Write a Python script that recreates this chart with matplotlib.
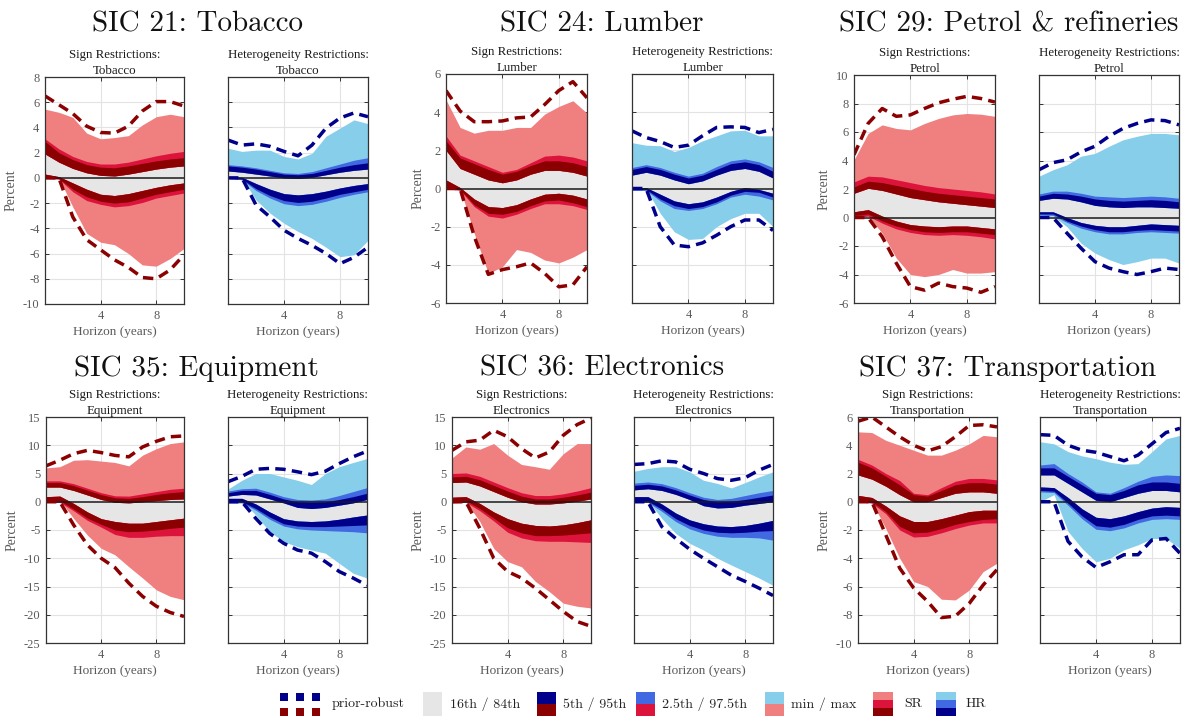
import matplotlib
matplotlib.use('Agg')
import matplotlib.pyplot as plt
from matplotlib.patches import Rectangle

plt.rcParams['axes.unicode_minus'] = False

# ---------------- data ----------------
horizon = [0, 1, 2, 3, 4, 5, 6, 7, 8, 9, 10]
x_ticks = [4, 8]

industries = ['Tobacco', 'Lumber', 'Petrol', 'Equipment', 'Electronics', 'Transportation']
main_titles = ['SIC 21: Tobacco', 'SIC 24: Lumber', 'SIC 29: Petrol & refineries',
               'SIC 35: Equipment', 'SIC 36: Electronics', 'SIC 37: Transportation']

tobacco_yticks = [-10, -8, -6, -4, -2, 0, 2, 4, 6, 8]
lumber_yticks = [-6, -4, -2, 0, 2, 4, 6]
petrol_yticks = [-6, -4, -2, 0, 2, 4, 6, 8, 10]
equipment_yticks = [-25, -20, -15, -10, -5, 0, 5, 10, 15]
electronics_yticks = [-25, -20, -15, -10, -5, 0, 5, 10, 15]
transportation_yticks = [-10, -8, -6, -4, -2, 0, 2, 4, 6]

# --- Tobacco, sign restrictions
tobacco_sr_pr_up = [6.5, 5.8, 5.1, 4.1, 3.6, 3.55, 4.1, 5.3, 6.05, 6.05, 5.7]
tobacco_sr_pr_lo = [0, 0, -3.1, -4.9, -5.7, -6.5, -7.1, -7.9, -8.0, -7.3, -6.1]
tobacco_sr_mm_up = [5.45, 5.2, 4.8, 3.55, 3.1, 3.2, 3.35, 4.2, 4.85, 5.05, 4.85]
tobacco_sr_mm_lo = [0, 0, -2.3, -4.4, -5.1, -5.3, -6.0, -6.9, -7.0, -6.4, -5.6]
tobacco_sr_up_in = [1.9, 1.25, 0.75, 0.4, 0.2, 0.15, 0.3, 0.5, 0.7, 0.85, 0.95]
tobacco_sr_up_95 = [2.9, 2.0, 1.45, 1.05, 0.85, 0.8, 0.95, 1.15, 1.35, 1.5, 1.6]
tobacco_sr_up_975 = [3.1, 2.3, 1.7, 1.3, 1.1, 1.1, 1.25, 1.5, 1.75, 1.95, 2.1]
tobacco_sr_lo_in = [0.3, 0.1, -0.4, -0.9, -1.3, -1.4, -1.25, -1.0, -0.75, -0.55, -0.4]
tobacco_sr_lo_05 = [0.0, -0.05, -0.9, -1.5, -1.85, -2.0, -1.9, -1.6, -1.3, -1.1, -0.9]
tobacco_sr_lo_025 = [-0.05, -0.1, -1.1, -1.8, -2.1, -2.3, -2.2, -1.95, -1.6, -1.4, -1.2]
# --- Tobacco, heterogeneity restrictions
tobacco_hr_pr_up = [3.0, 2.6, 2.7, 2.5, 2.1, 1.75, 2.6, 3.95, 4.75, 5.15, 4.85]
tobacco_hr_pr_lo = [0, 0, -2.15, -3.1, -4.15, -4.8, -5.35, -6.0, -6.8, -6.3, -5.5]
tobacco_hr_mm_up = [2.35, 2.1, 2.2, 2.2, 1.7, 1.5, 1.95, 3.3, 3.95, 4.6, 4.3]
tobacco_hr_mm_lo = [0, 0, -1.75, -2.8, -3.6, -4.25, -4.8, -5.5, -6.25, -6.1, -4.95]
tobacco_hr_up_in = [0.55, 0.45, 0.3, 0.15, 0.0, -0.05, 0.05, 0.25, 0.45, 0.6, 0.7]
tobacco_hr_up_95 = [0.95, 0.85, 0.7, 0.5, 0.3, 0.25, 0.35, 0.6, 0.85, 1.05, 1.2]
tobacco_hr_up_975 = [1.05, 0.95, 0.8, 0.6, 0.4, 0.35, 0.5, 0.8, 1.1, 1.4, 1.6]
tobacco_hr_lo_in = [0.1, 0.05, -0.45, -0.9, -1.25, -1.35, -1.25, -1.05, -0.8, -0.6, -0.45]
tobacco_hr_lo_05 = [0.0, -0.1, -0.85, -1.4, -1.8, -1.95, -1.85, -1.6, -1.3, -1.1, -0.9]
tobacco_hr_lo_025 = [-0.05, -0.15, -1.0, -1.6, -2.05, -2.2, -2.1, -1.85, -1.55, -1.3, -1.1]

# --- Lumber SR
lumber_sr_pr_up = [5.13, 4.06, 3.5, 3.5, 3.54, 3.7, 3.75, 4.4, 5.13, 5.6, 4.75]
lumber_sr_pr_lo = [0, 0, -2.5, -4.5, -4.25, -4.1, -3.9, -4.45, -5.15, -5.05, -4.1]
lumber_sr_mm_up = [4.65, 3.2, 2.9, 3.05, 3.05, 3.2, 3.2, 3.9, 4.3, 4.6, 3.95]
lumber_sr_mm_lo = [0.1, 0, -2.35, -4.45, -4.1, -3.2, -3.35, -3.75, -3.9, -3.6, -3.2]
lumber_sr_up_in = [2.0, 1.05, 0.75, 0.45, 0.3, 0.45, 0.75, 0.95, 0.95, 0.85, 0.65]
lumber_sr_up_95 = [2.5, 1.6, 1.3, 1.0, 0.75, 0.9, 1.2, 1.45, 1.45, 1.35, 1.15]
lumber_sr_up_975 = [2.75, 1.75, 1.45, 1.15, 0.85, 1.0, 1.35, 1.7, 1.75, 1.65, 1.45]
lumber_sr_lo_in = [0.45, 0.05, -0.55, -0.95, -1.0, -0.85, -0.55, -0.3, -0.25, -0.35, -0.55]
lumber_sr_lo_05 = [0.05, -0.05, -0.85, -1.3, -1.35, -1.2, -0.9, -0.65, -0.6, -0.75, -0.95]
lumber_sr_lo_025 = [0.0, -0.1, -0.95, -1.45, -1.55, -1.35, -1.05, -0.8, -0.8, -0.9, -1.1]
# --- Lumber HR
lumber_hr_pr_up = [3.02, 2.67, 2.46, 2.15, 2.27, 2.76, 3.2, 3.23, 3.2, 2.93, 3.1]
lumber_hr_pr_lo = [0, 0, -2.0, -2.96, -3.05, -2.85, -2.45, -2.0, -1.65, -1.65, -2.2]
lumber_hr_mm_up = [2.4, 2.27, 2.24, 1.94, 2.15, 2.5, 2.76, 3.02, 3.05, 2.76, 2.76]
lumber_hr_mm_lo = [0, 0, -1.3, -2.27, -2.67, -2.62, -2.0, -1.58, -1.3, -1.3, -2.0]
lumber_hr_up_in = [0.7, 0.85, 0.7, 0.45, 0.25, 0.4, 0.7, 0.95, 1.05, 0.9, 0.55]
lumber_hr_up_95 = [1.0, 1.15, 1.0, 0.75, 0.55, 0.7, 1.0, 1.3, 1.4, 1.25, 0.9]
lumber_hr_up_975 = [1.1, 1.25, 1.1, 0.85, 0.65, 0.8, 1.15, 1.45, 1.55, 1.4, 1.1]
lumber_hr_lo_in = [0.05, 0.05, -0.3, -0.65, -0.8, -0.7, -0.45, -0.15, 0.05, -0.05, -0.25]
lumber_hr_lo_05 = [-0.05, -0.05, -0.55, -0.9, -1.05, -0.95, -0.7, -0.35, -0.15, -0.2, -0.45]
lumber_hr_lo_025 = [-0.1, -0.1, -0.65, -1.05, -1.15, -1.05, -0.8, -0.45, -0.3, -0.4, -0.6]

# --- Petrol SR
petrol_sr_pr_up = [4.4, 6.6, 7.65, 7.1, 7.2, 7.65, 8.05, 8.3, 8.5, 8.35, 8.1]
petrol_sr_pr_lo = [0, 0, -1.35, -3.2, -4.85, -5.1, -4.6, -4.85, -4.95, -5.25, -4.85]
petrol_sr_mm_up = [4.05, 5.9, 6.5, 6.25, 6.15, 6.6, 6.95, 7.2, 7.3, 7.25, 7.1]
petrol_sr_mm_lo = [0, 0.1, -1.1, -2.85, -4.0, -4.15, -4.0, -3.65, -3.9, -3.9, -3.8]
petrol_sr_up_in = [1.7, 2.05, 1.9, 1.65, 1.4, 1.25, 1.1, 1.0, 0.9, 0.8, 0.7]
petrol_sr_up_95 = [2.15, 2.55, 2.45, 2.25, 2.05, 1.85, 1.7, 1.6, 1.5, 1.4, 1.3]
petrol_sr_up_975 = [2.5, 2.9, 2.85, 2.65, 2.45, 2.25, 2.1, 2.0, 1.9, 1.8, 1.65]
petrol_sr_lo_in = [0.4, 0.55, 0.1, -0.25, -0.5, -0.6, -0.65, -0.6, -0.6, -0.7, -0.8]
petrol_sr_lo_05 = [0.15, 0.25, -0.25, -0.6, -0.85, -1.0, -1.05, -1.0, -1.0, -1.1, -1.2]
petrol_sr_lo_025 = [0.0, 0.1, -0.4, -0.8, -1.05, -1.2, -1.25, -1.2, -1.25, -1.35, -1.5]
# --- Petrol HR
petrol_hr_pr_up = [3.35, 3.85, 4.05, 4.6, 5.0, 5.7, 6.25, 6.6, 6.85, 6.8, 6.5]
petrol_hr_pr_lo = [0, 0, -1.1, -2.15, -3.1, -3.55, -3.8, -4.0, -3.8, -3.55, -3.65]
petrol_hr_mm_up = [2.9, 3.35, 3.7, 4.3, 4.5, 5.0, 5.45, 5.7, 5.9, 5.9, 5.8]
petrol_hr_mm_lo = [0, 0.1, -0.65, -1.8, -2.5, -2.95, -3.3, -3.1, -2.85, -2.85, -3.2]
petrol_hr_up_in = [1.2, 1.35, 1.3, 1.1, 0.85, 0.75, 0.7, 0.75, 0.75, 0.7, 0.65]
petrol_hr_up_95 = [1.5, 1.7, 1.65, 1.5, 1.3, 1.2, 1.15, 1.2, 1.25, 1.2, 1.1]
petrol_hr_up_975 = [1.65, 1.85, 1.85, 1.7, 1.5, 1.45, 1.4, 1.45, 1.5, 1.45, 1.35]
petrol_hr_lo_in = [0.4, 0.4, 0.0, -0.35, -0.55, -0.65, -0.65, -0.55, -0.45, -0.5, -0.55]
petrol_hr_lo_05 = [0.25, 0.25, -0.25, -0.6, -0.85, -1.0, -1.0, -0.9, -0.85, -0.9, -0.95]
petrol_hr_lo_025 = [0.2, 0.15, -0.35, -0.75, -1.0, -1.15, -1.15, -1.05, -1.0, -1.05, -1.1]

# --- Equipment SR
equipment_sr_pr_up = [6.35, 7.35, 8.5, 9.1, 8.7, 8.2, 7.95, 9.7, 10.7, 11.5, 11.65]
equipment_sr_pr_lo = [0, 0, -4.1, -7.65, -10.0, -11.65, -14.4, -16.75, -18.5, -19.6, -20.3]
equipment_sr_mm_up = [6.0, 6.2, 7.35, 7.45, 7.2, 6.95, 6.35, 8.25, 9.4, 10.3, 10.6]
equipment_sr_mm_lo = [0, 0.3, -2.95, -5.9, -8.25, -9.4, -11.5, -13.5, -15.6, -16.75, -17.35]
equipment_sr_up_in = [2.6, 2.6, 2.0, 1.2, 0.4, -0.1, -0.2, 0.0, 0.2, 0.4, 0.5]
equipment_sr_up_95 = [3.4, 3.4, 2.85, 2.05, 1.25, 0.7, 0.6, 0.9, 1.3, 1.6, 1.8]
equipment_sr_up_975 = [3.7, 3.7, 3.2, 2.4, 1.6, 1.05, 1.0, 1.4, 1.8, 2.2, 2.4]
equipment_sr_lo_in = [0.9, 1.0, -0.3, -1.8, -3.0, -3.5, -3.8, -3.8, -3.5, -3.2, -2.9]
equipment_sr_lo_05 = [0.1, 0.2, -1.3, -2.9, -4.0, -5.0, -5.3, -5.2, -5.0, -4.7, -4.5]
equipment_sr_lo_025 = [-0.1, -0.1, -1.6, -3.3, -4.5, -5.8, -6.3, -6.3, -6.1, -6.0, -6.0]
# --- Equipment HR
equipment_hr_pr_up = [3.55, 4.5, 5.75, 5.9, 5.75, 5.3, 4.8, 5.4, 6.75, 7.95, 8.95]
equipment_hr_pr_lo = [0, 0, -2.95, -5.6, -7.35, -8.55, -9.1, -10.6, -12.35, -13.5, -14.8]
equipment_hr_mm_up = [2.25, 3.8, 5.0, 5.0, 4.4, 3.8, 3.05, 5.0, 6.2, 6.95, 7.65]
equipment_hr_mm_lo = [0, 0.2, -2.35, -5.3, -7.05, -7.95, -8.55, -9.1, -10.9, -12.65, -13.5]
equipment_hr_up_in = [1.0, 1.3, 1.2, 0.5, -0.2, -1.0, -1.2, -1.0, -0.6, -0.2, 0.4]
equipment_hr_up_95 = [1.6, 2.0, 2.0, 1.3, 0.5, 0.0, -0.1, 0.0, 0.4, 0.9, 1.5]
equipment_hr_up_975 = [1.9, 2.3, 2.4, 1.7, 0.9, 0.4, 0.3, 0.5, 1.1, 1.8, 2.5]
equipment_hr_lo_in = [0.6, 0.6, -0.4, -1.8, -3.0, -3.4, -3.5, -3.4, -3.1, -2.7, -2.35]
equipment_hr_lo_05 = [0.0, 0.0, -1.2, -2.7, -3.9, -4.3, -4.4, -4.4, -4.3, -4.2, -4.1]
equipment_hr_lo_025 = [-0.2, -0.2, -1.5, -3.1, -4.3, -4.8, -5.0, -5.1, -5.2, -5.3, -5.5]

# --- Electronics SR
electronics_sr_pr_up = [9.1, 10.6, 10.9, 12.65, 11.5, 9.4, 7.75, 8.8, 11.75, 13.65, 14.8]
electronics_sr_pr_lo = [0, 0, -4.7, -10.0, -12.35, -13.5, -15.3, -17.35, -19.4, -21.2, -22.05]
electronics_sr_mm_up = [7.75, 9.7, 9.3, 10.3, 8.25, 6.6, 6.2, 5.75, 8.5, 10.3, 10.3]
electronics_sr_mm_lo = [0, 0, -3.5, -8.25, -10.6, -11.5, -14.1, -15.9, -17.95, -18.5, -18.8]
electronics_sr_up_in = [3.4, 3.5, 2.8, 1.8, 0.8, 0.0, -0.4, -0.4, -0.2, 0.1, 0.5]
electronics_sr_up_95 = [4.4, 4.5, 3.9, 2.9, 1.9, 1.0, 0.5, 0.5, 0.8, 1.2, 1.7]
electronics_sr_up_975 = [5.0, 5.1, 4.5, 3.5, 2.5, 1.6, 1.1, 1.1, 1.4, 1.9, 2.5]
electronics_sr_lo_in = [0.8, 0.9, -0.3, -1.8, -3.0, -3.8, -4.2, -4.3, -4.1, -3.7, -3.2]
electronics_sr_lo_05 = [0.1, 0.2, -1.2, -2.9, -4.6, -5.5, -6.0, -6.0, -5.9, -5.7, -5.5]
electronics_sr_lo_025 = [-0.2, -0.1, -1.6, -3.4, -5.4, -6.4, -6.9, -7.0, -7.0, -7.1, -7.2]
# --- Electronics HR
electronics_hr_pr_up = [6.6, 6.75, 7.25, 7.05, 5.75, 5.0, 4.1, 3.8, 4.25, 5.6, 6.6]
electronics_hr_pr_lo = [0, 0, -4.4, -6.5, -8.4, -10.0, -11.5, -13.0, -14.1, -15.3, -16.6]
electronics_hr_mm_up = [5.4, 5.9, 6.2, 6.2, 5.3, 3.8, 3.25, 2.45, 3.4, 4.4, 5.3]
electronics_hr_mm_lo = [0, 0.2, -2.95, -5.6, -7.35, -8.55, -10.0, -11.2, -12.35, -13.5, -14.8]
electronics_hr_up_in = [2.1, 2.3, 2.0, 1.3, 0.4, -0.7, -1.1, -1.0, -0.6, -0.3, 0.0]
electronics_hr_up_95 = [2.9, 3.1, 2.8, 2.1, 1.2, 0.4, 0.0, 0.1, 0.4, 0.8, 1.2]
electronics_hr_up_975 = [3.3, 3.5, 3.2, 2.5, 1.6, 0.8, 0.4, 0.6, 1.1, 1.6, 2.0]
electronics_hr_lo_in = [0.9, 0.9, -0.4, -2.0, -3.2, -3.9, -4.3, -4.4, -4.2, -3.8, -3.3]
electronics_hr_lo_05 = [0.1, 0.1, -1.3, -3.0, -4.2, -5.0, -5.4, -5.5, -5.4, -5.2, -5.1]
electronics_hr_lo_025 = [-0.1, -0.1, -1.7, -3.5, -4.8, -5.6, -6.1, -6.3, -6.3, -6.4, -6.8]

# --- Transportation SR
transportation_sr_pr_up = [5.7, 6.0, 5.3, 4.6, 4.0, 3.6, 3.9, 4.6, 5.4, 5.45, 5.3]
transportation_sr_pr_lo = [0, 0, -2.35, -4.7, -6.1, -7.05, -8.2, -8.1, -7.2, -5.9, -4.8]
transportation_sr_mm_up = [4.95, 4.9, 4.35, 4.0, 3.65, 3.3, 3.3, 3.65, 4.1, 4.7, 4.6]
transportation_sr_mm_lo = [0, 0, -1.9, -4.0, -5.65, -6.0, -6.9, -6.95, -6.25, -4.95, -4.35]
transportation_sr_up_in = [1.9, 1.6, 1.1, 0.5, 0.0, 0.0, 0.3, 0.6, 0.7, 0.7, 0.6]
transportation_sr_up_95 = [2.8, 2.4, 1.8, 1.2, 0.5, 0.4, 0.8, 1.2, 1.35, 1.35, 1.25]
transportation_sr_up_975 = [3.0, 2.6, 2.0, 1.5, 0.6, 0.5, 1.0, 1.45, 1.65, 1.65, 1.55]
transportation_sr_lo_in = [0.45, 0.3, -0.3, -1.0, -1.4, -1.4, -1.2, -0.95, -0.7, -0.6, -0.6]
transportation_sr_lo_05 = [0.1, 0.0, -0.7, -1.75, -2.2, -2.15, -1.9, -1.6, -1.4, -1.25, -1.2]
transportation_sr_lo_025 = [0.0, -0.1, -0.85, -2.0, -2.5, -2.45, -2.2, -1.9, -1.65, -1.5, -1.5]
# --- Transportation HR
transportation_hr_pr_up = [4.75, 4.7, 4.0, 3.65, 3.5, 3.2, 2.9, 3.3, 4.1, 4.9, 5.2]
transportation_hr_pr_lo = [0, 0, -2.8, -3.9, -4.65, -4.25, -3.75, -3.75, -2.7, -2.6, -3.65]
transportation_hr_mm_up = [4.25, 4.1, 3.55, 3.25, 3.05, 2.8, 2.65, 2.7, 3.55, 4.45, 4.7]
transportation_hr_mm_lo = [0, 0.5, -2.1, -3.3, -4.25, -4.0, -3.4, -3.05, -2.6, -2.6, -3.3]
transportation_hr_up_in = [1.9, 1.9, 1.3, 0.7, 0.1, 0.0, 0.3, 0.6, 0.8, 0.8, 0.7]
transportation_hr_up_95 = [2.4, 2.4, 1.8, 1.2, 0.6, 0.5, 0.8, 1.2, 1.4, 1.4, 1.3]
transportation_hr_up_975 = [2.6, 2.7, 2.0, 1.4, 0.7, 0.6, 1.0, 1.45, 1.8, 1.9, 1.85]
transportation_hr_lo_in = [1.05, 1.0, 0.3, -0.5, -1.1, -1.2, -1.0, -0.7, -0.45, -0.35, -0.4]
transportation_hr_lo_05 = [0.8, 0.75, -0.1, -1.0, -1.7, -1.8, -1.6, -1.25, -1.0, -0.95, -1.0]
transportation_hr_lo_025 = [0.7, 0.65, -0.25, -1.2, -1.95, -2.05, -1.85, -1.5, -1.25, -1.2, -1.25]

legend_labels = ['prior-robust', '16th / 84th', '5th / 95th', '2.5th / 97.5th', 'min / max', 'SR', 'HR']

# ---------------- styling ----------------
SERIF = ['Liberation Serif', 'DejaVu Serif']
CM = ['cmr10', 'DejaVu Serif']
SR_C = dict(light='#F08080', mid='#DC143C', dark='#8B0000', dash='#8B0000')
HR_C = dict(light='#87CEEB', mid='#4169E1', dark='#00008B', dash='#00008B')
GRAY = '#E6E6E6'
TICKC = '#5a5a5a'

W, H = 1187, 719
fig = plt.figure(figsize=(W / 100, H / 100), dpi=100)


def series(prefix):
    g = globals()
    keys = ['pr_up', 'pr_lo', 'mm_up', 'mm_lo', 'up_in', 'up_95', 'up_975',
            'lo_in', 'lo_05', 'lo_025']
    return {k: g[prefix + '_' + k] for k in keys}


# axes rectangles in pixels: (left, right, top, bottom)
ax_px = [
    ((45, 184, 77, 304), (228, 368, 77, 304)),
    ((446, 587, 74, 303), (632, 773, 74, 303)),
    ((854, 995, 75, 303), (1039, 1179, 75, 303)),
    ((46, 184, 417, 643), (228, 367, 417, 643)),
    ((452, 591, 417, 643), (634, 773, 417, 643)),
    ((858, 997, 417, 643), (1040, 1180, 417, 643)),
]
title_px = [(197, 31), (602, 31), (1009, 31), (196, 376), (602, 376), (1008, 376)]
yticks_all = [tobacco_yticks, lumber_yticks, petrol_yticks,
              equipment_yticks, electronics_yticks, transportation_yticks]


def draw(ax, d, c):
    ax.fill_between(horizon, d['mm_lo'], d['mm_up'], color=c['light'], lw=0, zorder=2)
    ax.fill_between(horizon, d['lo_in'], d['up_in'], color=GRAY, lw=0, zorder=3)
    ax.fill_between(horizon, d['up_in'], d['up_975'], color=c['mid'], lw=0, zorder=4)
    ax.fill_between(horizon, d['up_in'], d['up_95'], color=c['dark'], lw=0, zorder=5)
    ax.fill_between(horizon, d['lo_025'], d['lo_in'], color=c['mid'], lw=0, zorder=4)
    ax.fill_between(horizon, d['lo_05'], d['lo_in'], color=c['dark'], lw=0, zorder=5)
    ax.axhline(0, color='#1a1a1a', lw=1.1, zorder=6)
    ax.plot(horizon, d['pr_up'], color=c['dash'], lw=2.5, ls=(0, (3, 1.8)), zorder=7,
            dash_capstyle='butt')
    ax.plot(horizon, d['pr_lo'], color=c['dash'], lw=2.5, ls=(0, (3, 1.8)), zorder=7,
            dash_capstyle='butt')


for i, ind in enumerate(industries):
    key = ind.lower()
    for j, (kind, c, sub) in enumerate([('sr', SR_C, 'Sign Restrictions:'),
                                        ('hr', HR_C, 'Heterogeneity Restrictions:')]):
        l, r, t, b = ax_px[i][j]
        ax = fig.add_axes([l / W, 1 - b / H, (r - l) / W, (b - t) / H])
        draw(ax, series(key + '_' + kind), c)
        yt = yticks_all[i]
        ax.set_xlim(0, 10)
        ax.set_ylim(yt[0], yt[-1])
        ax.set_xticks(x_ticks)
        ax.set_yticks(yt)
        ax.grid(True, color='#E3E3E3', lw=0.8, zorder=0)
        ax.set_axisbelow(True)
        for s in ax.spines.values():
            s.set_color('#333333')
            s.set_linewidth(0.9)
            s.set_zorder(10)
        ax.tick_params(direction='in', top=True, right=True, length=3, width=0.7,
                       color='#333333', labelcolor=TICKC, labelsize=9, pad=4)
        for lab in ax.get_xticklabels() + ax.get_yticklabels():
            lab.set_family(SERIF)
        if j == 1:
            ax.tick_params(labelleft=False)
        else:
            ax.set_ylabel('Percent', family=SERIF, fontsize=10, color=TICKC, labelpad=4)
        ax.set_xlabel('Horizon (years)', family=SERIF, fontsize=9.5, color=TICKC, labelpad=3)
        ax.set_title(sub + '\n' + ind, family=SERIF, fontsize=9.3, fontweight='normal',
                     color='#1a1a1a', pad=2, linespacing=1.45)
    tx, ty = title_px[i]
    fig.text(tx / W, 1 - ty / H, main_titles[i], ha='center', va='baseline',
             fontsize=21, family=CM, color='#111111')

# ---------------- legend ----------------
lg = fig.add_axes([0, 0, 1, 1], zorder=-1)
lg.set_xlim(0, W)
lg.set_ylim(H, 0)
lg.axis('off')
ymid = 704
for x0 in (280, 296, 312):
    lg.add_patch(Rectangle((x0, 693), 8, 8, color=HR_C['dash'], lw=0))
    lg.add_patch(Rectangle((x0, 708), 8, 8, color=SR_C['dash'], lw=0))
lg.add_patch(Rectangle((423, 692), 19, 24, color=GRAY, lw=0))
for x0, top, bot in ((537, HR_C['dark'], SR_C['dark']), (636, HR_C['mid'], SR_C['mid']),
                     (765, HR_C['light'], SR_C['light'])):
    lg.add_patch(Rectangle((x0, 692), 19, 12, color=top, lw=0))
    lg.add_patch(Rectangle((x0, 704), 19, 12, color=bot, lw=0))
for x0, cc in ((873, SR_C), (936, HR_C)):
    lg.add_patch(Rectangle((x0, 692), 20, 8, color=cc['light'], lw=0))
    lg.add_patch(Rectangle((x0, 700), 20, 8, color=cc['mid'], lw=0))
    lg.add_patch(Rectangle((x0, 708), 20, 8, color=cc['dark'], lw=0))
for x0, txt in zip((332, 450, 563, 662, 791, 904, 966), legend_labels):
    lg.text(x0, ymid, txt, ha='left', va='center', fontsize=10, family=CM, color='#222222')

fig.savefig('out.png', dpi=100)
